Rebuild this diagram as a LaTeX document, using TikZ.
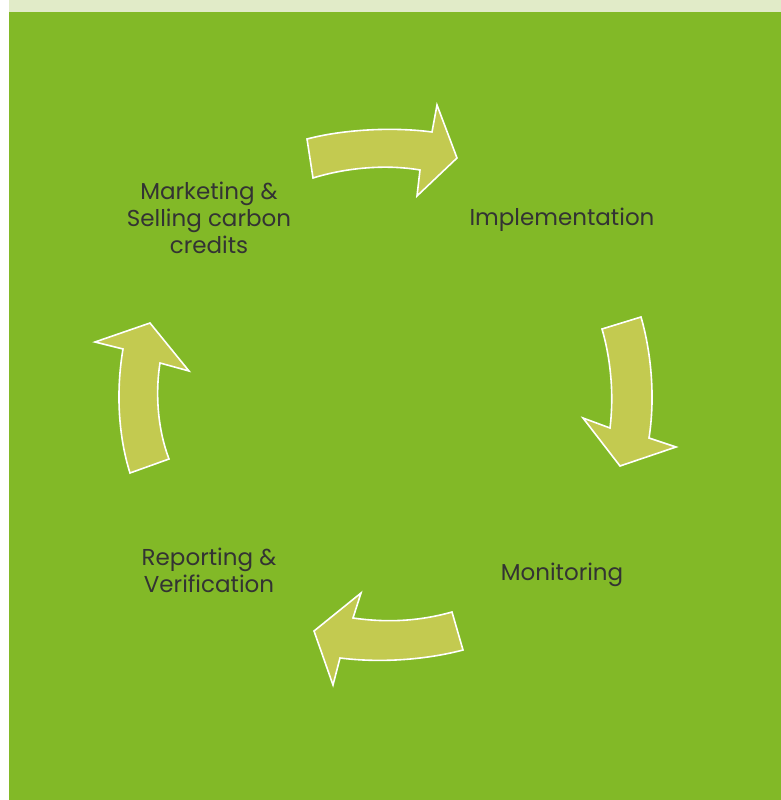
\documentclass[tikz,border=0pt]{standalone}
\usepackage{fontspec}
\setmainfont{Poppins}
\definecolor{band}{HTML}{E1EBC8}
\definecolor{bg}{HTML}{82B927}
\definecolor{arrowfill}{HTML}{C3CA50}
\definecolor{txt}{HTML}{333333}
\begin{document}
\begin{tikzpicture}[x=1pt,y=-1pt,
  cyclearrow/.style={fill=arrowfill,draw=white,line width=1.6pt,line join=miter},
  label/.style={text=txt,align=center,font=\fontsize{23}{27}\selectfont,inner sep=0pt}]
\useasboundingbox (0,0) rectangle (781,800);
\fill[white] (0,0) rectangle (781,800);
\fill[band] (9,0) rectangle (781,12);
\fill[bg] (9,12) rectangle (781,800);
% arrows
\path[cyclearrow] (307,139) .. controls (345,129) and (395,127) .. (432,132) -- (437,105) -- (457,158) -- (417,196) -- (420,170) .. controls (385,164) and (345,168) .. (313,178) -- cycle;
\path[cyclearrow] (602,329) -- (641,317) .. controls (652,355) and (655,400) .. (649,438) -- (676,447) -- (620,466) -- (583,418) -- (610,428) .. controls (614,395) and (611,360) .. (602,329) -- cycle;
\path[cyclearrow] (452,612) -- (463,650) .. controls (425,660) and (380,663) .. (340,658) -- (333,685) -- (314,631) -- (361,593) -- (353,618) .. controls (388,623) and (420,621) .. (452,612) -- cycle;
\path[cyclearrow] (130,473) .. controls (118,435) and (116,390) .. (123,349) -- (95,342) -- (150,323) -- (189,371) -- (160,363) .. controls (155,395) and (158,430) .. (169,459) -- cycle;
% labels
\node[label] (impl) at (562,220) {Implementation};
\node[label] (mon) at (562,575) {Monitoring};
\node[label] (rep) at (209,570) {Reporting \&\\Verification};
\node[label] (mkt) at (209,218) {Marketing \&\\Selling carbon\\credits};
\end{tikzpicture}
\end{document}
